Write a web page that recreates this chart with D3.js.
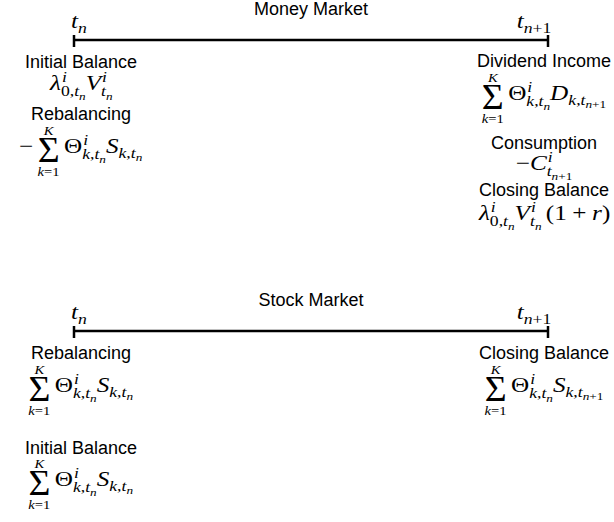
<!DOCTYPE html>
<html>
<head>
    <meta charset="utf-8">
    <script type="text/javascript" src="https://d3js.org/d3.v7.min.js"></script>
    <style>
body { margin: 0; background: #fff; }
.label { font-family: "Liberation Sans", Arial, sans-serif; font-size: 18px; fill: #000; }
.math { font-family: "Liberation Serif", "Times New Roman", serif; fill: #000; }
.line { fill: none; stroke: #000; stroke-width: 2.5px; }
    </style>
</head>
<body>
    <script type="text/javascript">

	// panel titles and the two time points
	var panelTitles = ["Money Market", "Stock Market"];
	var timePoints = [0, 1];
	var timeLabels = ["t_n", "t_{n+1}"];

	// [label, formula] rows, left column at t_n, right column at t_{n+1}
	var moneyIn = [
		["Initial Balance", "\\lambda^i_{0,t_n}V^i_{t_n}"],
		["Rebalancing", "-\\sum_{k=1}^{K}\\Theta^i_{k,t_n}S_{k,t_n}"]
	];
	var moneyOut = [
		["Dividend Income", "\\sum_{k=1}^{K}\\Theta^i_{k,t_n}D_{k,t_{n+1}}"],
		["Consumption", "-C^i_{t_{n+1}}"],
		["Closing Balance", "\\lambda^i_{0,t_n}V^i_{t_n}\\,(1+r)"]
	];
	var stockIn = [
		["Rebalancing", "\\sum_{k=1}^{K}\\Theta^i_{k,t_n}S_{k,t_n}"],
		["Initial Balance", "\\sum_{k=1}^{K}\\Theta^i_{k,t_n}S_{k,t_n}"]
	];
	var stockOut = [
		["Closing Balance", "\\sum_{k=1}^{K}\\Theta^i_{k,t_n}S_{k,t_{n+1}}"]
	];

	var width = 614, height = 522, mathSize = 21, mathStretch = 1.2;

	var svg = d3.select("body").append("svg")
		.attr("width", width)
		.attr("height", height);

	var x = d3.scaleLinear()
		.domain([0, 1])
		.range([74, 548]);

	// layout: baselines relative to the timeline (label, formula, label, formula ...)
	var panels = [
		{title: panelTitles[0], lineY: 40, left: moneyIn, right: moneyOut,
		 leftY: [28, 50, 80, 113], rightY: [27, 60, 109, 130, 156, 180]},
		{title: panelTitles[1], lineY: 331, left: stockIn, right: stockOut,
		 leftY: [28, 61, 123, 155], rightY: [28, 61]}
	];
	var colX = [x(0) + 7, x(1) - 4];
	var tLabelX = [x(0) + 5, x(1) - 14];

	// --- tiny tex-ish parser: ^ _ { } and a few commands ---
	var cmds = {
		lambda: {ch: "\u03bb"},
		Theta: {ch: "\u0398"},
		sum: {op: "sum"},
		",": {space: 0.17}
	};

	function parseTex(s) {
		var i = 0;
		function atom() {
			var c = s[i++];
			if (c === "{") return {group: group("}")};
			if (c === "\\") {
				var name = "";
				while (i < s.length && /[a-zA-Z]/.test(s[i])) name += s[i++];
				if (!name) name = s[i++];
				return cmds[name];
			}
			if (c === " ") return null;
			return {ch: c};
		}
		function group(end) {
			var out = [];
			while (i < s.length && s[i] !== end) {
				var a = atom();
				if (!a) continue;
				var sup = null, sub = null;
				while (s[i] === "^" || s[i] === "_") {
					var c = s[i++];
					if (c === "^") sup = atom(); else sub = atom();
				}
				if (sup || sub) a = {base: a, sup: sup, sub: sub};
				out.push(a);
			}
			i++;
			return out;
		}
		return group(undefined);
	}

	// consecutive glyphs on the same baseline share one <text>
	function glyph(g, ch, px, py, size) {
		var italic = /[A-Za-z\u03bb]/.test(ch);
		var run = g.node().__run;
		if (!run || run.y !== py || run.size !== size || Math.abs(run.end - px) > 0.01) {
			var t = g.append("text")
				.attr("class", "math")
				.attr("y", py)
				.style("font-size", size + "px");
			run = g.node().__run = {text: t, y: py, size: size, end: px};
		}
		var sp = run.text.append("tspan")
			.attr("x", px)
			.style("font-style", italic ? "italic" : "normal")
			.text(ch);
		var w = sp.node().getComputedTextLength();
		run.end = px + w;
		return w;
	}

	function drawSum(g, px, py, size, sup, sub) {
		px += 0.17 * size;
		var s = g.append("g");
		var fs = 1.1 * size / 0.662;
		var sig = s.append("text").attr("class", "math")
			.attr("y", py + 0.42 * size)
			.style("font-size", fs + "px")
			.text("\u03a3");
		var w = sig.node().getComputedTextLength() * 0.9;
		var lim = [];
		[[sup, py - 0.86 * size], [sub, py + 1.1 * size]].forEach(function(d) {
			if (!d[0]) return;
			var lg = s.append("g");
			var lw = render(lg, [d[0]], 0, d[1], size * 0.58, 1);
			lim.push([lg, lw]);
		});
		var full = d3.max([w].concat(lim.map(function(d) { return d[1]; })));
		sig.attr("transform", "translate(" + (full - w) / 2 + ",0) scale(0.9,1)");
		lim.forEach(function(d) { d[0].attr("transform", "translate(" + (full - d[1]) / 2 + ",0)"); });
		s.attr("transform", "translate(" + px + ",0)");
		return px + full + 0.17 * size;
	}

	function render(g, nodes, px, py, size, lvl) {
		nodes.forEach(function(n, k) {
			if (n.space) { px += n.space * size; return; }
			if (n.group) { px = render(g, n.group, px, py, size, lvl); return; }
			if (n.op === "sum") { px = drawSum(g, px, py, size, null, null); return; }
			if (n.base) {
				if (n.base.op === "sum") { px = drawSum(g, px, py, size, n.sup, n.sub); return; }
				px = render(g, [n.base], px, py, size, lvl);
				var ss = size * (lvl ? 0.75 : 0.7);
				var x1 = px, x2 = px;
				if (n.sup) x1 = render(g, [n.sup], px + 0.04 * size, py - size * (n.sub ? 0.4 : 0.36), ss, lvl + 1);
				if (n.sub) x2 = render(g, [n.sub], px, py + size * (n.sup ? 0.3 : 0.22), ss, lvl + 1);
				px = Math.max(x1, x2);
				return;
			}
			var ch = n.ch;
			if (ch === "-") ch = "\u2212";
			var binary = (ch === "+" || ch === "=" || ch === "\u2212") && k > 0 && lvl === 0;
			if (binary) px += 0.22 * size;
			px += glyph(g, ch, px, py, size);
			if (binary) px += 0.22 * size;
		});
		return px;
	}

	// formulas are drawn at x=0, then centred and stretched a little (cm-like width)
	function formula(tex, cx, y) {
		var g = svg.append("g");
		var inner = g.append("g");
		render(inner, parseTex(tex), 0, y, mathSize, 0);
		var bb = inner.node().getBBox();
		g.attr("transform", "translate(" + cx + ",0) scale(" + mathStretch + ",1) translate(" + (-bb.x - bb.width / 2) + ",0)");
	}

	panels.forEach(function(p) {
		svg.append("text")
			.attr("class", "label")
			.attr("x", (x(0) + x(1)) / 2)
			.attr("y", p.lineY - 25)
			.attr("text-anchor", "middle")
			.text(p.title);

		svg.append("path")
			.attr("class", "line")
			.attr("d", "M" + x(0) + "," + p.lineY + "H" + x(1));

		svg.selectAll(null)
			.data(timePoints)
			.enter().append("path")
			.attr("class", "line")
			.attr("d", function(d) { return "M" + x(d) + "," + (p.lineY - 5) + "V" + (p.lineY + 7); });

		timeLabels.forEach(function(t, i) {
			formula(t, tLabelX[i], p.lineY - 12);
		});

		[[p.left, p.leftY, colX[0]], [p.right, p.rightY, colX[1]]].forEach(function(col) {
			col[0].forEach(function(row, i) {
				svg.append("text")
					.attr("class", "label")
					.attr("x", col[2])
					.attr("y", p.lineY + col[1][2 * i])
					.attr("text-anchor", "middle")
					.text(row[0]);
				formula(row[1], col[2], p.lineY + col[1][2 * i + 1]);
			});
		});
	});

	</script>
</body>
</html>
